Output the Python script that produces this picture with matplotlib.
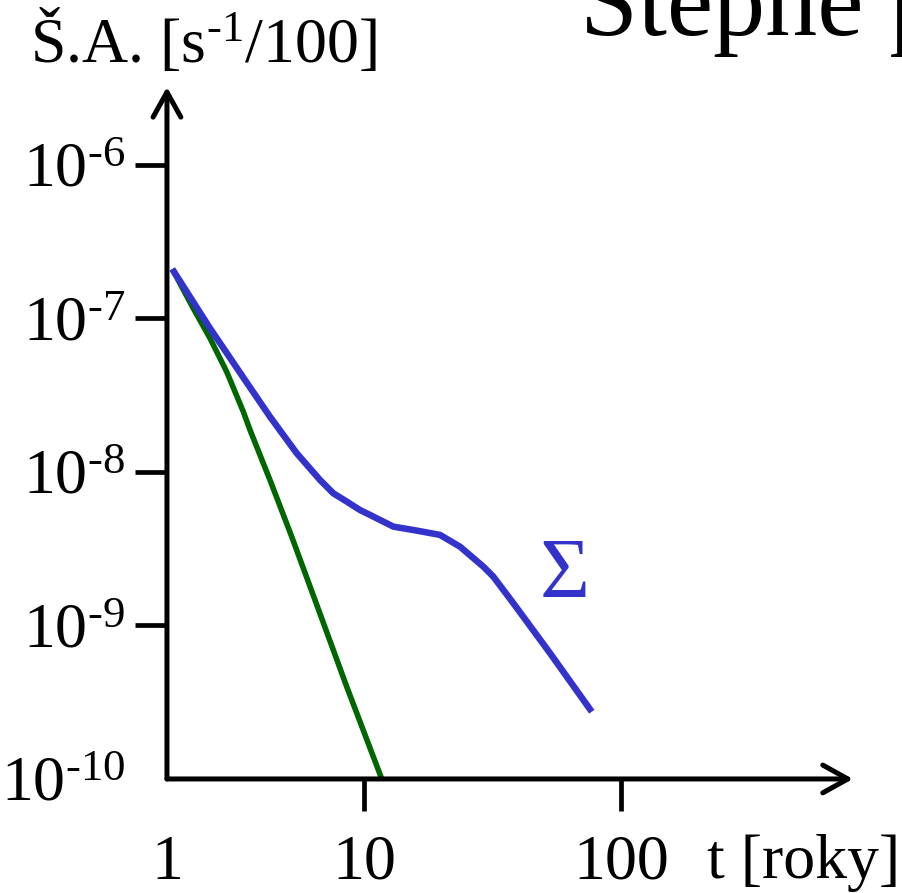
import numpy as np
import matplotlib
matplotlib.use("Agg")
import matplotlib.pyplot as plt

plt.rcParams['font.family'] = ['Liberation Serif', 'DejaVu Serif']
plt.rcParams['mathtext.fontset'] = 'custom'
plt.rcParams['mathtext.rm'] = 'Liberation Serif'
plt.rcParams['mathtext.it'] = 'Liberation Serif:italic'
plt.rcParams['mathtext.bf'] = 'Liberation Serif:bold'

# (t in years, log10 of activity)
t_sum = [1.094, 1.90, 2.923, 3.867, 5.131, 6.498, 7.411, 8.443, 9.59, 10.55, 13.12,
         16.29, 20.13, 24.12, 29.73, 32.49, 38.80, 53.66, 77.34]
logy_sum = [-6.678, -7.064, -7.401, -7.640, -7.878, -8.052, -8.139, -8.193, -8.248,
            -8.280, -8.356, -8.382, -8.410, -8.487, -8.617, -8.682, -8.855, -9.181, -9.562]
t_green = [1.094, 1.51, 1.90, 2.349, 2.866, 3.096, 3.867, 4.871, 6.18, 8.443, 11.78]
logy_green = [-6.678, -6.934, -7.129, -7.347, -7.607, -7.726, -8.052, -8.421, -8.834,
              -9.399, -10.0]

xticks = [1, 10, 100]
xtick_labels = ['1', '10', '100']
yticks = [1e-10, 1e-9, 1e-8, 1e-7, 1e-6]
ytick_labels = [r'10$^{\text{-10}}$', r'10$^{\text{-9}}$', r'10$^{\text{-8}}$',
                r'10$^{\text{-7}}$', r'10$^{\text{-6}}$']

fig = plt.figure(figsize=(9.02, 8.93), dpi=100)
ax = fig.add_axes([0.1851, 0.1277, 0.7605, 0.7749])

# x axis spacing in the picture follows log10(1 + t)
fwd = lambda t: np.log10(1 + np.maximum(t, -0.999))
inv = lambda u: 10 ** u - 1
ax.set_xscale('function', functions=(fwd, inv))
ax.set_yscale('log')

ax.plot(t_green, 10 ** np.array(logy_green), color='#006600', lw=4.0,
        solid_joinstyle='round', solid_capstyle='butt', zorder=3)
ax.plot(t_sum, 10 ** np.array(logy_sum), color='#3333cc', lw=4.7,
        solid_joinstyle='round', solid_capstyle='butt', zorder=4)
ax.text(61, 2.07e-9, 'Σ', color='#3333cc', fontsize=62, ha='center', va='center')

ax.set_xlim(1, 746)
ax.set_ylim(1e-10, 10 ** -5.492)

ax.set_xticks(xticks)
ax.set_xticklabels(xtick_labels)
ax.set_yticks(yticks)
ax.set_yticklabels(ytick_labels)
ax.xaxis.set_minor_locator(matplotlib.ticker.NullLocator())
ax.yaxis.set_minor_locator(matplotlib.ticker.NullLocator())
ax.tick_params(axis='both', direction='out', length=23, width=3.4, labelsize=46)
ax.tick_params(axis='x', pad=17)
ax.tick_params(axis='y', pad=7)
ax.xaxis.get_major_ticks()[0].tick1line.set_visible(False)
ax.yaxis.get_major_ticks()[0].tick1line.set_visible(False)

for s in ax.spines.values():
    s.set_visible(False)

arrow = dict(arrowstyle='->,head_length=0.9,head_width=0.5', lw=3.6, color='black',
             mutation_scale=20, shrinkA=0, shrinkB=0)
ax.annotate('', xy=(1, 0), xytext=(0, 0), xycoords='axes fraction', arrowprops=arrow)
ax.annotate('', xy=(0, 1), xytext=(0, 0), xycoords='axes fraction', arrowprops=arrow)

fig.text(30 / 902, 1 - 62 / 893, r'Š.A. [s$^{\text{-1}}$/100]', fontsize=46,
         va='baseline', ha='left')
fig.text(707 / 902, 1 - 878 / 893, 't [roky]', fontsize=46, va='baseline', ha='left')
fig.text(580 / 902, 1 - 35 / 893, 'Štěpné produkty', fontsize=75, va='baseline', ha='left')

fig.savefig('out.png', dpi=100)
